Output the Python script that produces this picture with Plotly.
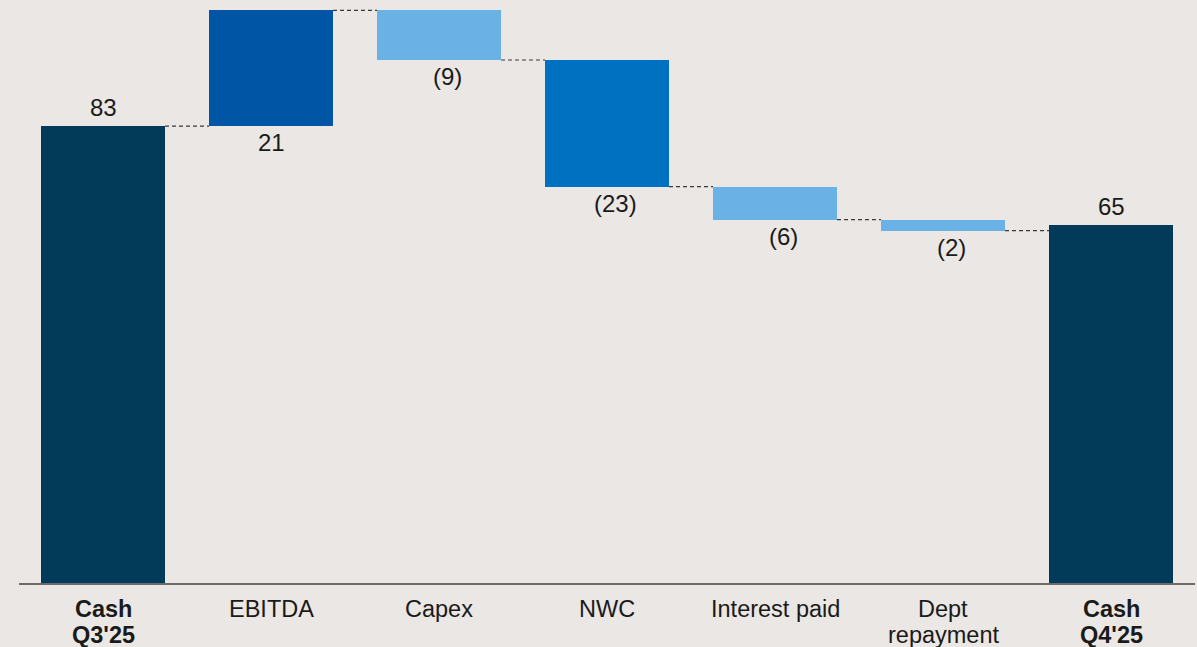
import plotly.graph_objects as go

categories = ["Cash Q3'25", "EBITDA", "Capex", "NWC", "Interest paid", "Dept repayment", "Cash Q4'25"]
label_line1 = ["<b>Cash</b>", "EBITDA", "Capex", "NWC", "Interest paid", "Dept", "<b>Cash</b>"]
label_line2 = ["<b>Q3'25</b>", "", "", "", "", "repayment", "<b>Q4'25</b>"]
values = [83, 21, -9, -23, -6, -2, 65]
measures = ["absolute", "relative", "relative", "relative", "relative", "relative", "absolute"]
value_labels = ["83", "21", "(9)", "(23)", "(6)", "(2)", "65"]

bar_colors = ["#023A5A", "#0055A4", "#6AB2E6", "#0070C0", "#6AB2E6", "#6AB2E6", "#023A5A"]
BG = "#EBE7E4"
FONT = "Liberation Sans, Arial, sans-serif"
TXT = "#1a1a1a"
W = 0.738

# compute bases and ends
bases, heights, ends = [], [], []
running = 0
for v, m in zip(values, measures):
    if m == "absolute":
        bases.append(0); heights.append(v); running = v
    else:
        if v >= 0:
            bases.append(running); heights.append(v)
        else:
            bases.append(running + v); heights.append(-v)
        running += v
    ends.append(running)

x = list(range(len(categories)))
fig = go.Figure()
fig.add_trace(go.Bar(x=x, y=heights, base=bases, width=W,
                     marker=dict(color=bar_colors, line=dict(width=0)),
                     hoverinfo="skip", showlegend=False))

# connectors
for i in range(len(values) - 1):
    lvl = ends[i]
    fig.add_trace(go.Scatter(x=[i + W / 2, i + 1 - W / 2], y=[lvl, lvl], mode="lines",
                             line=dict(color="#3a3a3a", width=1.2, dash="4px,3px"),
                             hoverinfo="skip", showlegend=False))

# value labels
for i, (m, v, lab) in enumerate(zip(measures, values, value_labels)):
    if m == "absolute":
        fig.add_annotation(x=i, y=bases[i] + heights[i], text=lab, showarrow=False,
                           yanchor="bottom", yshift=3, font=dict(size=24, color=TXT, family=FONT))
    else:
        fig.add_annotation(x=i, y=bases[i], text=lab, showarrow=False,
                           yanchor="top", yshift=-1, xshift=8 if v < 0 else 0,
                           font=dict(size=24, color=TXT, family=FONT))

# category labels (two lines with tight spacing)
for i, (l1, l2) in enumerate(zip(label_line1, label_line2)):
    fig.add_annotation(x=i, y=0, yref="paper", text=l1, showarrow=False, yanchor="middle",
                       yshift=-25.5, font=dict(size=23.5, color=TXT, family=FONT))
    if l2:
        fig.add_annotation(x=i, y=0, yref="paper", text=l2, showarrow=False, yanchor="middle",
                           yshift=-51.5, font=dict(size=23.5, color=TXT, family=FONT))

fig.update_layout(
    width=1197, height=647,
    margin=dict(l=19, r=2, t=0, b=64),
    paper_bgcolor=BG, plot_bgcolor=BG,
    font=dict(family=FONT, size=20, color=TXT),
    bargap=0,
    xaxis=dict(tickmode="array", tickvals=x, ticktext=[""] * len(x), range=[-0.5, 6.5],
               showgrid=False, zeroline=False, showline=True, linecolor="#6b6b6b", linewidth=2,
               ticks=""),
    yaxis=dict(range=[0, 105.9], visible=False, showgrid=False, zeroline=False),
)

fig.write_html("out.html")
